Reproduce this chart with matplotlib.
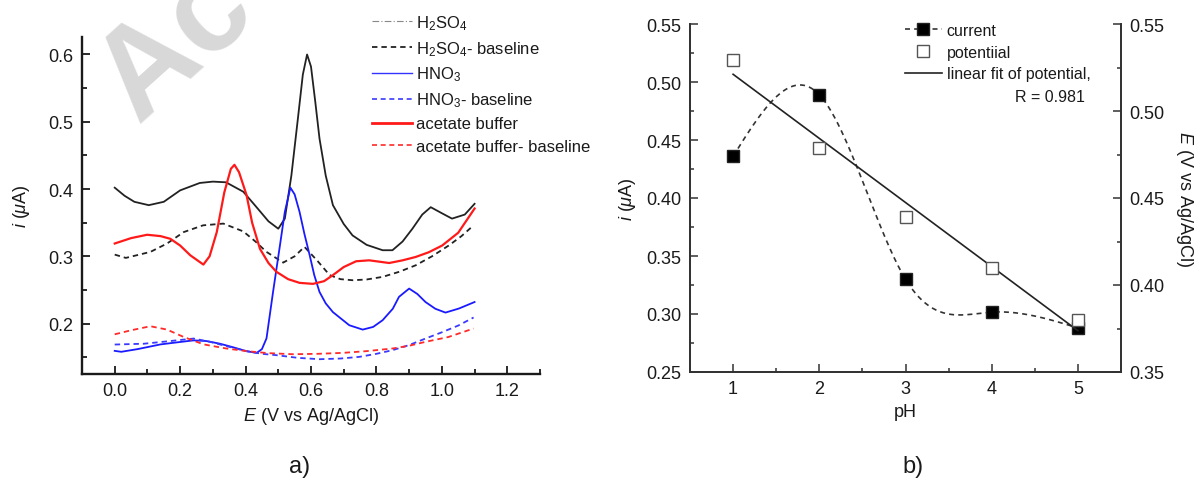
import numpy as np
import matplotlib
matplotlib.use("Agg")
import matplotlib.pyplot as plt
from matplotlib.lines import Line2D
from matplotlib.ticker import MultipleLocator

plt.rcParams['font.family'] = ['Liberation Sans', 'DejaVu Sans']
plt.rcParams['mathtext.fontset'] = 'custom'
plt.rcParams['mathtext.rm'] = 'Liberation Sans'
plt.rcParams['mathtext.it'] = 'Liberation Sans:italic'
plt.rcParams['font.size'] = 12

# ---- panel a) : voltammograms, potential E (V) vs current i (uA) ----
h2so4_E = [0.0, 0.03, 0.06, 0.104, 0.15, 0.2, 0.26, 0.30, 0.34, 0.393, 0.43, 0.47, 0.50,
           0.52, 0.54, 0.56, 0.575, 0.588, 0.60, 0.613, 0.626, 0.645, 0.667, 0.70, 0.727,
           0.77, 0.819, 0.849, 0.88, 0.91, 0.94, 0.966, 1.0, 1.031, 1.07, 1.10]
h2so4_i = [0.402, 0.390, 0.381, 0.376, 0.381, 0.398, 0.409, 0.411, 0.410, 0.396, 0.375, 0.352, 0.341,
           0.356, 0.420, 0.505, 0.570, 0.600, 0.582, 0.530, 0.475, 0.420, 0.376, 0.348, 0.331,
           0.317, 0.309, 0.309, 0.322, 0.341, 0.362, 0.373, 0.364, 0.356, 0.362, 0.378]

h2so4_base_E = [0.0, 0.034, 0.109, 0.16, 0.211, 0.27, 0.332, 0.393, 0.43, 0.464, 0.515, 0.55,
                0.58, 0.62, 0.657, 0.69, 0.727, 0.77, 0.819, 0.87, 0.92, 0.97, 1.021, 1.06, 1.097]
h2so4_base_i = [0.3025, 0.2976, 0.3065, 0.319, 0.336, 0.346, 0.3486, 0.337, 0.322, 0.3065, 0.2906, 0.300,
                0.314, 0.293, 0.272, 0.266, 0.2644, 0.2655, 0.2694, 0.277, 0.2866, 0.300, 0.316, 0.330, 0.346]

hno3_E = [0.0, 0.02, 0.07, 0.14, 0.19, 0.241, 0.28, 0.322, 0.36, 0.403, 0.434, 0.45, 0.464,
          0.484, 0.505, 0.52, 0.537, 0.55, 0.565, 0.58, 0.596, 0.61, 0.626, 0.645, 0.667,
          0.717, 0.758, 0.79, 0.819, 0.85, 0.869, 0.9, 0.925, 0.95, 0.98, 1.011, 1.052, 1.1]
hno3_i = [0.1594, 0.158, 0.162, 0.169, 0.172, 0.175, 0.174, 0.170, 0.165, 0.1589, 0.1564, 0.162, 0.178,
          0.247, 0.316, 0.366, 0.402, 0.392, 0.366, 0.333, 0.3015, 0.272, 0.247, 0.230, 0.217,
          0.1975, 0.191, 0.195, 0.205, 0.222, 0.2397, 0.252, 0.244, 0.232, 0.222, 0.2163, 0.2223, 0.232]

hno3_base_E = [0.0, 0.089, 0.17, 0.241, 0.29, 0.342, 0.403, 0.45, 0.494, 0.56, 0.626, 0.69,
               0.748, 0.8, 0.849, 0.9, 0.95, 1.0, 1.05, 1.097]
hno3_base_i = [0.1688, 0.170, 0.174, 0.1777, 0.173, 0.1663, 0.159, 0.155, 0.153, 0.149, 0.147, 0.148,
               0.1505, 0.155, 0.1604, 0.168, 0.1777, 0.187, 0.197, 0.209]

acetate_E = [0.0, 0.05, 0.099, 0.14, 0.170, 0.20, 0.231, 0.271, 0.29, 0.312, 0.335, 0.355, 0.366,
             0.38, 0.403, 0.42, 0.444, 0.47, 0.494, 0.53, 0.565, 0.606, 0.64, 0.667, 0.70,
             0.738, 0.778, 0.839, 0.88, 0.92, 0.96, 1.001, 1.05, 1.1]
acetate_i = [0.319, 0.327, 0.332, 0.330, 0.326, 0.316, 0.3015, 0.2877, 0.300, 0.336, 0.395, 0.430, 0.436,
             0.425, 0.391, 0.350, 0.311, 0.290, 0.277, 0.266, 0.2605, 0.259, 0.263, 0.272, 0.284,
             0.2926, 0.294, 0.290, 0.294, 0.299, 0.306, 0.316, 0.335, 0.371]

acetate_base_E = [0.0, 0.05, 0.109, 0.16, 0.211, 0.272, 0.34, 0.403, 0.47, 0.545, 0.62, 0.697,
                  0.77, 0.849, 0.9, 0.95, 1.02, 1.097]
acetate_base_i = [0.184, 0.190, 0.196, 0.191, 0.180, 0.169, 0.163, 0.159, 0.156, 0.1544, 0.155, 0.1564,
                  0.159, 0.1629, 0.167, 0.1728, 0.180, 0.1926]

# ---- panel b) : pH dependence ----
ph = [1, 2, 3, 4, 5]
current = [0.436, 0.489, 0.330, 0.3016, 0.288]
potential = [0.5295, 0.479, 0.439, 0.4096, 0.380]
fit_label_r = "R = 0.981"


def natural_spline(x, y, n=300):
    x = np.asarray(x, float)
    y = np.asarray(y, float)
    k = len(x)
    h = np.diff(x)
    A = np.zeros((k, k))
    r = np.zeros(k)
    A[0, 0] = A[-1, -1] = 1.0
    for j in range(1, k - 1):
        A[j, j - 1] = h[j - 1]
        A[j, j] = 2 * (h[j - 1] + h[j])
        A[j, j + 1] = h[j]
        r[j] = 3 * ((y[j + 1] - y[j]) / h[j] - (y[j] - y[j - 1]) / h[j - 1])
    c = np.linalg.solve(A, r)
    xs = np.linspace(x[0], x[-1], n)
    idx = np.clip(np.searchsorted(x, xs) - 1, 0, k - 2)
    dx = xs - x[idx]
    b = (y[1:] - y[:-1]) / h - h * (2 * c[:-1] + c[1:]) / 3
    d = (c[1:] - c[:-1]) / (3 * h)
    ys = y[idx] + b[idx] * dx + c[idx] * dx ** 2 + d[idx] * dx ** 3
    return xs, ys


W, H = 1199, 481
fig = plt.figure(figsize=(W / 100, H / 100), dpi=100)


def px_box(x0, y0, x1, y1):
    return [x0 / W, 1 - y1 / H, (x1 - x0) / W, (y1 - y0) / H]


ink = '#1a1a1a'
TICK = 13
LAB = 13

# watermark
fig.text(138 / W, 1 - 124 / H, "Ac", rotation=42, fontsize=92, color='#d8d8d8',
         fontweight='bold', ha='left', va='baseline', rotation_mode='anchor', zorder=0)

# ---------------- panel a ----------------
ax1 = fig.add_axes(px_box(82, 38, 540, 375))
ax1.patch.set_alpha(0)
ax1.plot(h2so4_E, h2so4_i, color='#222222', lw=1.3)
ax1.plot(h2so4_base_E, h2so4_base_i, color='#222222', lw=1.3, ls=(0, (3, 2.2)))
ax1.plot(hno3_E, hno3_i, color='#1a1aff', lw=1.3)
ax1.plot(hno3_base_E, hno3_base_i, color='#3a3aff', lw=1.3, ls=(0, (3, 2.2)))
ax1.plot(acetate_E, acetate_i, color='#ff1a1a', lw=1.6)
ax1.plot(acetate_base_E, acetate_base_i, color='#ff2a2a', lw=1.3, ls=(0, (3, 2.2)))

ax1.set_xlim(-0.1, 1.3)
ax1.set_ylim(0.125, 0.626)
ax1.xaxis.set_minor_locator(MultipleLocator(0.1))
ax1.yaxis.set_minor_locator(MultipleLocator(0.05))
ax1.set_xticks([0.0, 0.2, 0.4, 0.6, 0.8, 1.0, 1.2])
ax1.set_yticks([0.2, 0.3, 0.4, 0.5, 0.6])
for s in ('top', 'right'):
    ax1.spines[s].set_visible(False)
for s in ('left', 'bottom'):
    ax1.spines[s].set_linewidth(1.7)
    ax1.spines[s].set_color(ink)
ax1.tick_params(which='both', direction='in', color=ink, labelcolor=ink, width=1.3)
ax1.tick_params(which='major', length=6, pad=6, labelsize=TICK)
ax1.tick_params(which='minor', length=3.5)
ax1.set_xlabel(r"$E$ (V vs Ag/AgCl)", fontsize=LAB, color=ink, labelpad=4)
ax1.set_ylabel(r"$i$ ($\mu$A)", fontsize=LAB, color=ink, labelpad=12)

handles_a = [
    Line2D([], [], color='#888888', lw=0.8, ls=(0, (6, 2, 1, 2))),
    Line2D([], [], color='#222222', lw=1.3, ls=(0, (3, 2.2))),
    Line2D([], [], color='#3333ff', lw=1.0),
    Line2D([], [], color='#3a3aff', lw=1.2, ls=(0, (3, 2.2))),
    Line2D([], [], color='#ff1a1a', lw=2.0),
    Line2D([], [], color='#ff2a2a', lw=1.2, ls=(0, (3, 2.2))),
]
labels_a = [r"H$_2$SO$_4$", r"H$_2$SO$_4$- baseline", r"HNO$_3$", r"HNO$_3$- baseline",
            "acetate buffer", "acetate buffer- baseline"]
fig.legend(handles_a, labels_a, loc='upper left', bbox_to_anchor=(372 / W, 1 - 14 / H),
           frameon=False, fontsize=12, handlelength=2.4, handletextpad=0.25,
           labelspacing=0.43, borderpad=0, borderaxespad=0, labelcolor=ink)

fig.text(300 / W, 1 - 467 / H, "a)", fontsize=17, ha='center', va='center', color=ink)

# ---------------- panel b ----------------
ax2 = fig.add_axes(px_box(690, 25, 1121, 373))
ax3 = ax2.twinx()
sx, sy = natural_spline(ph, current)
ax2.plot(sx, sy, color='#333333', lw=1.2, ls=(0, (3, 2.5)), zorder=2)
ax2.plot(ph, current, ls='none', marker='s', ms=8.5, color='black', mec='#222222', zorder=3)

coef = np.polyfit(ph, potential, 1)
fit_x = np.array([ph[0], ph[-1]])
ax3.plot(fit_x, np.polyval(coef, fit_x), color='#222222', lw=1.2, zorder=2)
ax3.plot(ph, potential, ls='none', marker='s', ms=8.5, mfc='white', mec='#555555', mew=1.0, zorder=3)

ax2.set_xlim(0.5, 5.5)
ax2.set_ylim(0.25, 0.55)
ax3.set_ylim(0.35, 0.55)
ax2.set_xticks(ph)
ax2.xaxis.set_minor_locator(MultipleLocator(0.5))
ax2.yaxis.set_minor_locator(MultipleLocator(0.025))
ax3.yaxis.set_minor_locator(MultipleLocator(0.025))
ax2.set_yticks([0.25, 0.30, 0.35, 0.40, 0.45, 0.50, 0.55])
ax2.set_yticklabels(['0.25', '0.30', '0.35', '0.40', '0.45', '0.50', '0.55'])
ax3.set_yticks([0.35, 0.40, 0.45, 0.50, 0.55])
ax3.set_yticklabels(['0.35', '0.40', '0.45', '0.50', '0.55'])
for a in (ax2, ax3):
    a.spines['top'].set_visible(False)
    for s in ('left', 'right', 'bottom'):
        a.spines[s].set_linewidth(1.3)
        a.spines[s].set_color('#333333')
    a.tick_params(which='both', direction='in', color='#333333', labelcolor=ink, width=1.1)
    a.tick_params(which='major', length=5.5, pad=6, labelsize=TICK)
    a.tick_params(which='minor', length=3)
ax2.set_xlabel("pH", fontsize=LAB, color=ink, labelpad=4)
ax2.set_ylabel(r"$i$ ($\mu$A)", fontsize=LAB, color=ink, labelpad=6)
ax3.set_ylabel(r"$E$ (V vs Ag/AgCl)", fontsize=LAB, color=ink, rotation=270, labelpad=22)

handles_b = [
    Line2D([], [], color='#333333', lw=1.2, ls=(0, (3, 2.5)), marker='s', ms=8.5,
           mfc='black', mec='#222222'),
    Line2D([], [], ls='none', marker='s', ms=8.5, mfc='white', mec='#555555', mew=1.0),
    Line2D([], [], color='#222222', lw=1.2),
]
labels_b = ["current", "potentiial", "linear fit of potential,"]
fig.legend(handles_b, labels_b, loc='upper left', bbox_to_anchor=(905 / W, 1 - 24 / H),
           frameon=False, fontsize=11.5, handlelength=2.3, handletextpad=0.3,
           labelspacing=0.42, borderpad=0, borderaxespad=0, labelcolor=ink)
fig.text(1085 / W, 1 - 98 / H, fit_label_r, fontsize=11.5, ha='right', va='center', color=ink)

fig.text(913 / W, 1 - 467 / H, "b)", fontsize=17, ha='center', va='center', color=ink)

fig.savefig("out.png", dpi=100)
